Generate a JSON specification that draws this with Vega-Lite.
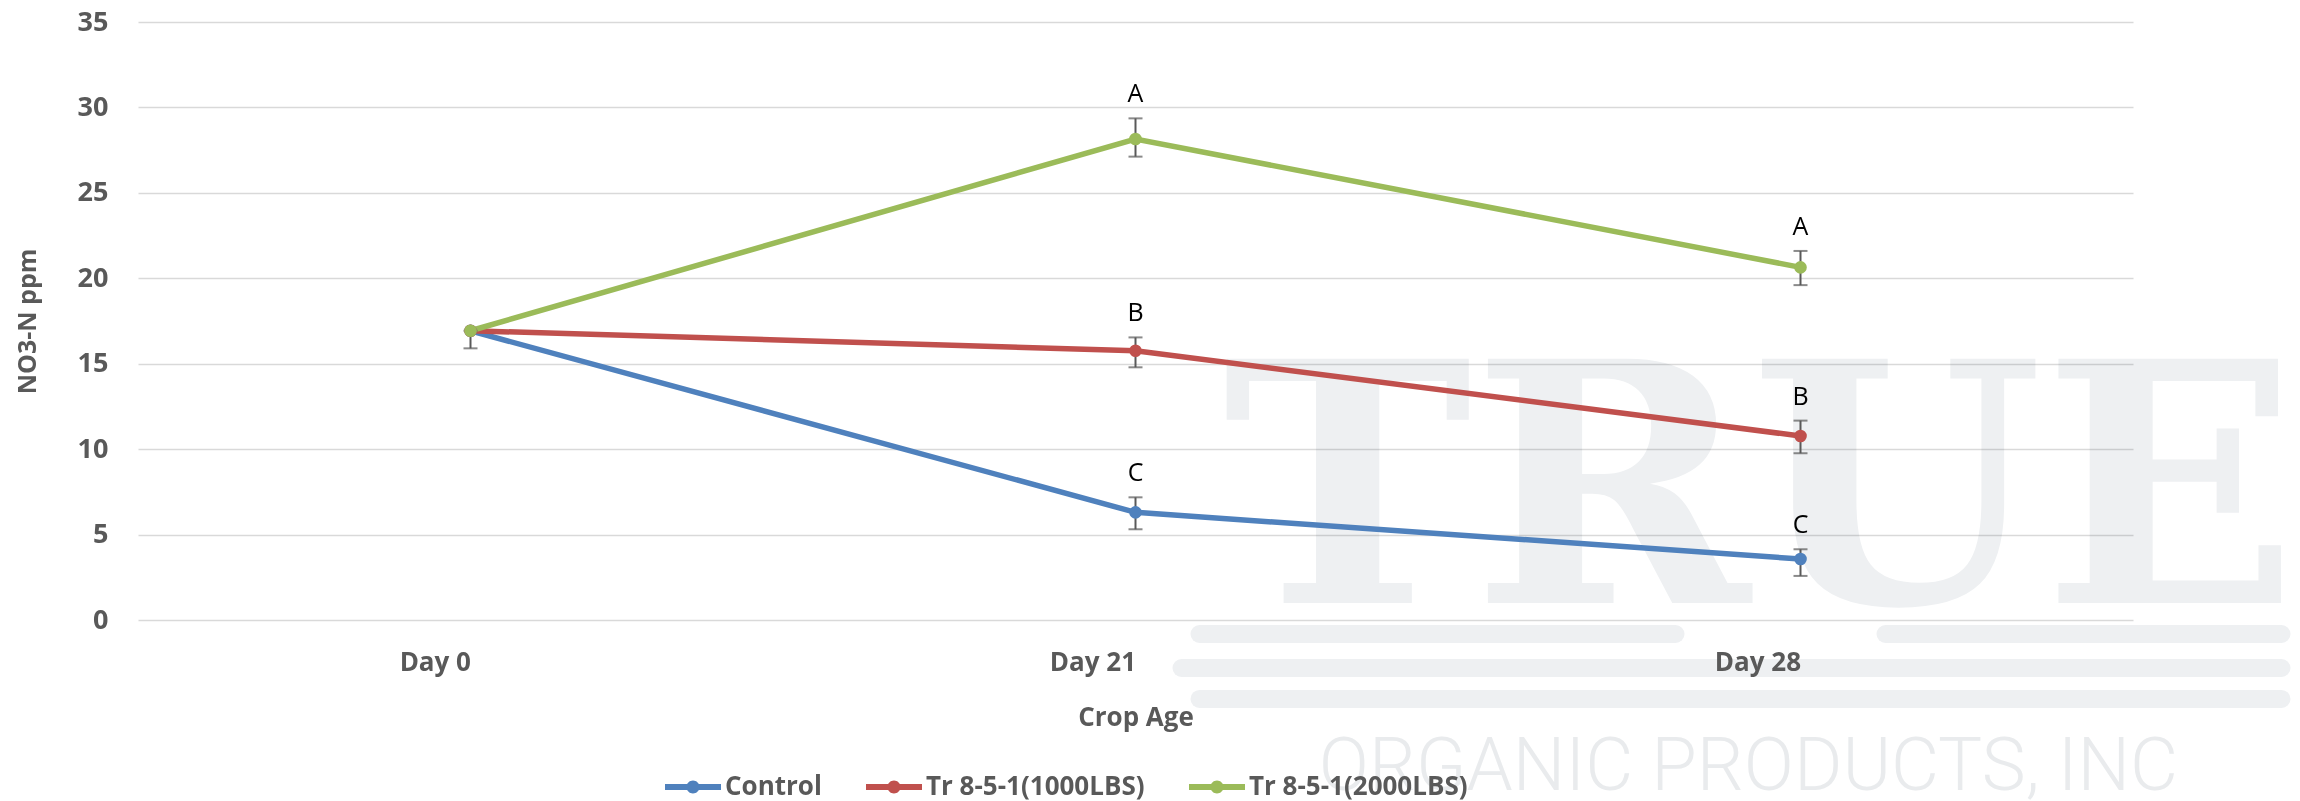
{
  "$schema": "https://vega.github.io/schema/vega-lite/v6.json",
  "autosize": {"type": "none"},
  "padding": {"left": 138, "top": 22, "right": 167, "bottom": 181},
  "width": 1995,
  "height": 598,
  "background": "white",
  "config": {"view": {"stroke": null}, "font": "Open Sans"},
  "datasets": {
    "nitrate": [
      {"day": "Day 0", "series": "Control", "value": 16.93, "lo": null, "hi": null, "letter": null},
      {"day": "Day 0", "series": "Tr 8-5-1(1000LBS)", "value": 16.93, "lo": null, "hi": null, "letter": null},
      {"day": "Day 0", "series": "Tr 8-5-1(2000LBS)", "value": 16.93, "lo": 15.9, "hi": 16.93, "letter": null},
      {"day": "Day 21", "series": "Control", "value": 6.3, "lo": 5.31, "hi": 7.18, "letter": "C"},
      {"day": "Day 21", "series": "Tr 8-5-1(1000LBS)", "value": 15.76, "lo": 14.79, "hi": 16.54, "letter": "B"},
      {"day": "Day 21", "series": "Tr 8-5-1(2000LBS)", "value": 28.15, "lo": 27.12, "hi": 29.36, "letter": "A"},
      {"day": "Day 28", "series": "Control", "value": 3.57, "lo": 2.58, "hi": 4.14, "letter": "C"},
      {"day": "Day 28", "series": "Tr 8-5-1(1000LBS)", "value": 10.77, "lo": 9.76, "hi": 11.67, "letter": "B"},
      {"day": "Day 28", "series": "Tr 8-5-1(2000LBS)", "value": 20.64, "lo": 19.6, "hi": 21.6, "letter": "A"}
    ],
    "watermark": [{"name": "TRUE ORGANIC PRODUCTS, INC"}]
  },
  "layer": [
    {
      "data": {"name": "watermark"},
      "mark": {"type": "rule", "color": "#eef0f2", "blend": "multiply", "strokeWidth": 18, "strokeCap": "round", "xOffset": 64, "x2Offset": -125},
      "encoding": {"x": {"datum": "Day 21"}, "x2": {"datum": "Day 28"}, "y": {"datum": -0.82}}
    },
    {
      "data": {"name": "watermark"},
      "mark": {"type": "rule", "color": "#eef0f2", "blend": "multiply", "strokeWidth": 18, "strokeCap": "round", "xOffset": 85, "x2Offset": 481},
      "encoding": {"x": {"datum": "Day 28"}, "x2": {"datum": "Day 28"}, "y": {"datum": -0.82}}
    },
    {
      "data": {"name": "watermark"},
      "mark": {"type": "rule", "color": "#eef0f2", "blend": "multiply", "strokeWidth": 18, "strokeCap": "round", "xOffset": 46, "x2Offset": 481},
      "encoding": {"x": {"datum": "Day 21"}, "x2": {"datum": "Day 28"}, "y": {"datum": -2.81}}
    },
    {
      "data": {"name": "watermark"},
      "mark": {"type": "rule", "color": "#eef0f2", "blend": "multiply", "strokeWidth": 18, "strokeCap": "round", "xOffset": 64, "x2Offset": 481},
      "encoding": {"x": {"datum": "Day 21"}, "x2": {"datum": "Day 28"}, "y": {"datum": -4.62}}
    },
    {
      "data": {"name": "watermark"},
      "mark": {"type": "text", "text": "TRUE", "font": "DejaVu Serif", "fontWeight": "bold", "fontSize": 335, "color": "#eef0f2", "blend": "multiply", "align": "center", "baseline": "alphabetic", "dx": -40},
      "encoding": {"x": {"datum": "Day 28"}, "y": {"datum": 1.0}}
    },
    {
      "data": {"name": "watermark"},
      "mark": {"type": "text", "text": "ORGANIC PRODUCTS, INC", "font": "Roboto", "fontWeight": 300, "fontSize": 74, "color": "#e9ebed", "blend": "multiply", "align": "center", "baseline": "alphabetic", "dx": -52},
      "encoding": {"x": {"datum": "Day 28"}, "y": {"datum": -9.95}}
    },
    {
      "data": {"name": "nitrate"},
      "mark": {"type": "line", "strokeWidth": 5.5},
      "encoding": {
        "x": {"field": "day", "type": "nominal",
          "scale": {"type": "point", "padding": 0.5, "domain": ["Day 0", "Day 21", "Day 28"]},
          "axis": {"title": "Crop Age", "labelAngle": 0, "domain": false, "ticks": false, "tickSize": 0, "zindex": 1,
            "labelFont": "Open Sans", "labelFontWeight": "bold", "labelFontSize": 26, "labelColor": "#595959",
            "labelBaseline": "alphabetic", "labelPadding": 50,
            "titleFont": "Open Sans", "titleFontWeight": "bold", "titleFontSize": 26, "titleColor": "#595959",
            "titleBaseline": "alphabetic", "titleY": 105, "grid": false}},
        "y": {"field": "value", "type": "quantitative",
          "scale": {"domain": [0, 35], "nice": false},
          "axis": {"title": "NO3-N ppm", "values": [0, 5, 10, 15, 20, 25, 30, 35], "domain": false, "ticks": false, "tickSize": 0,
            "grid": true, "gridColor": "#d9d9d9", "gridWidth": 1.7,
            "labelFont": "Open Sans", "labelFontWeight": "bold", "labelFontSize": 27, "labelColor": "#595959", "labelPadding": 30,
            "titleFont": "Open Sans", "titleFontWeight": "bold", "titleFontSize": 25, "titleColor": "#595959",
            "titleBaseline": "alphabetic", "titleX": -103, "titleY": 299, "titleAngle": -90}},
        "color": {"field": "series", "type": "nominal",
          "scale": {"domain": ["Control", "Tr 8-5-1(1000LBS)", "Tr 8-5-1(2000LBS)"], "range": ["#4f81bd", "#c0504d", "#9bbb59"]},
          "legend": {"title": null, "orient": "none", "legendX": 527, "legendY": 737, "direction": "horizontal",
            "padding": 0, "columnPadding": 44, "labelOffset": 4,
            "symbolType": "M-1,-0.107L1,-0.107L1,0.107L-1,0.107Z M0.232,0A0.232,0.232,0,1,1,-0.232,0A0.232,0.232,0,1,1,0.232,0Z",
            "symbolSize": 3136, "symbolStrokeWidth": 0,
            "labelFont": "Open Sans", "labelFontWeight": "bold", "labelFontSize": 26, "labelColor": "#595959",
            "labelLimit": 400, "zindex": 1,
            "encode": {"symbols": {"update": {"fill": {"scale": "color", "field": "value"}, "strokeWidth": {"value": 0}, "opacity": {"value": 1}}}}}}
      }
    },
    {
      "data": {"name": "nitrate"},
      "transform": [{"filter": "datum.lo != null"}],
      "mark": {"type": "rule", "color": "#595959", "strokeWidth": 2},
      "encoding": {"x": {"field": "day", "type": "nominal"}, "y": {"field": "lo", "type": "quantitative"}, "y2": {"field": "hi"}}
    },
    {
      "data": {"name": "nitrate"},
      "transform": [{"filter": "datum.lo != null"}],
      "mark": {"type": "tick", "color": "#595959", "thickness": 2, "size": 14, "orient": "horizontal"},
      "encoding": {"x": {"field": "day", "type": "nominal"}, "y": {"field": "lo", "type": "quantitative"}}
    },
    {
      "data": {"name": "nitrate"},
      "transform": [{"filter": "datum.lo != null"}],
      "mark": {"type": "tick", "color": "#595959", "thickness": 2, "size": 14, "orient": "horizontal"},
      "encoding": {"x": {"field": "day", "type": "nominal"}, "y": {"field": "hi", "type": "quantitative"}}
    },
    {
      "data": {"name": "nitrate"},
      "mark": {"type": "point", "filled": true, "size": 160, "opacity": 1},
      "encoding": {
        "x": {"field": "day", "type": "nominal"},
        "y": {"field": "value", "type": "quantitative"},
        "color": {"field": "series", "type": "nominal", "legend": null}
      }
    },
    {
      "data": {"name": "nitrate"},
      "transform": [{"filter": "datum.letter != null"}],
      "mark": {"type": "text", "font": "Open Sans", "fontSize": 25, "color": "#000000", "align": "center", "baseline": "alphabetic", "dy": -16},
      "encoding": {
        "x": {"field": "day", "type": "nominal"},
        "y": {"field": "hi", "type": "quantitative"},
        "text": {"field": "letter"}
      }
    }
  ]
}
